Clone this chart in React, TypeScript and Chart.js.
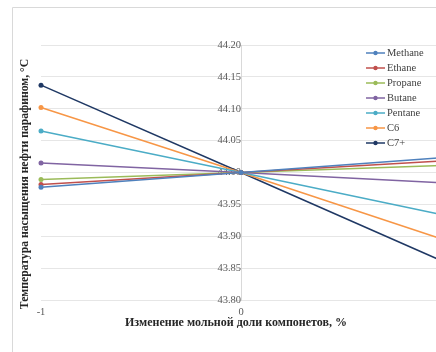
import React, { useEffect, useRef } from "react";
import { Chart, registerables } from "chart.js";

Chart.register(...registerables);

const xValues = [-1, 0, 1];
const seriesNames = ["Methane", "Ethane", "Propane", "Butane", "Pentane", "C6", "C7+"];
const methane = [43.977, 44.0, 44.023];
const ethane = [43.981, 44.0, 44.018];
const propane = [43.989, 44.0, 44.011];
const butane = [44.015, 44.0, 43.984];
const pentane = [44.065, 44.0, 43.934];
const c6 = [44.102, 44.0, 43.896];
const c7 = [44.137, 44.0, 43.862];
const seriesValues = [methane, ethane, propane, butane, pentane, c6, c7];
const seriesColors = ["#4F81BD", "#C0504D", "#9BBB59", "#8064A2", "#4BACC6", "#F79646", "#1F3864"];
const xTitle = "Изменение мольной доли компонетов, %";
const yTitle = "Температура насыщения нефти парафином, °С";

const FONT = "'Liberation Serif', 'Times New Roman', serif";

const overlayPlugin = {
  id: "overlay",
  beforeDraw(chart: any) {
    const ctx = chart.ctx;
    ctx.save();
    ctx.strokeStyle = "#d9d9d9";
    ctx.lineWidth = 1;
    ctx.beginPath();
    ctx.moveTo(12.5, 400);
    ctx.lineTo(12.5, 7.5);
    ctx.lineTo(600, 7.5);
    ctx.stroke();
    ctx.restore();
  },
  afterDraw(chart: any) {
    const ctx = chart.ctx;
    ctx.save();
    // legend
    ctx.font = `10.5px ${FONT}`;
    ctx.textBaseline = "middle";
    ctx.textAlign = "left";
    chart.data.datasets.forEach((ds: any, i: number) => {
      const y = 53 + i * 15;
      ctx.strokeStyle = ds.borderColor;
      ctx.lineWidth = 1.5;
      ctx.beginPath();
      ctx.moveTo(366, y);
      ctx.lineTo(385, y);
      ctx.stroke();
      ctx.fillStyle = ds.borderColor;
      ctx.beginPath();
      ctx.arc(375.5, y, 2.2, 0, Math.PI * 2);
      ctx.fill();
      ctx.fillStyle = "#404040";
      ctx.fillText(ds.label, 387, y);
    });
    // titles
    ctx.fillStyle = "#262626";
    ctx.font = `bold 12px ${FONT}`;
    ctx.textAlign = "center";
    ctx.fillText(xTitle, 236, 323);
    ctx.translate(25, 184);
    ctx.rotate(-Math.PI / 2);
    ctx.font = `bold 11.7px ${FONT}`;
    ctx.fillText(yTitle, 0, 0);
    ctx.restore();
  },
};

export default function App() {
  const ref = useRef<HTMLCanvasElement>(null);
  useEffect(() => {
    if (!ref.current) return;
    const chart = new Chart(ref.current, {
      type: "line",
      data: {
        datasets: seriesNames.map((name, i) => ({
          label: name,
          data: xValues.map((x, j) => ({ x, y: seriesValues[i][j] })),
          borderColor: seriesColors[i],
          backgroundColor: seriesColors[i],
          borderWidth: 1.5,
          pointRadius: 2.5,
          pointBorderWidth: 0,
          tension: 0,
          fill: false,
          clip: false as any,
        })),
      },
      options: {
        animation: false,
        responsive: false,
        maintainAspectRatio: false,
        layout: { padding: { left: 41, right: 29, top: 45, bottom: 32 } },
        plugins: { legend: { display: false }, tooltip: { enabled: false } },
        scales: {
          x: {
            type: "linear",
            position: "bottom",
            min: -1,
            max: 1,
            afterFit: (s: any) => {
              s.height = 20;
            },
            ticks: {
              stepSize: 1,
              padding: 6,
              color: "#595959",
              font: { family: FONT, size: 10.5 },
              callback: (v: any) => String(v),
            },
            grid: { display: false, drawTicks: false },
            border: { display: false },
          },
          y: {
            type: "linear",
            position: { x: 0 } as any,
            min: 43.8,
            max: 44.2,
            ticks: {
              stepSize: 0.05,
              padding: 9,
              color: "#595959",
              font: { family: FONT, size: 10.5 },
              callback: (v: any) => Number(v).toFixed(2),
            },
            grid: { color: "#e6e6e6", lineWidth: 1, drawTicks: false },
            border: { display: true, color: "#d9d9d9", width: 1 },
          },
        },
      },
      plugins: [overlayPlugin],
    });
    return () => chart.destroy();
  }, []);
  return (
    <div style={{ position: "fixed", left: 0, top: 0, width: 436, height: 352, overflow: "hidden", background: "#fff" }}>
      <canvas ref={ref} width={470} height={352} style={{ position: "absolute", left: 0, top: 0, width: 470, height: 352 }} />
    </div>
  );
}
